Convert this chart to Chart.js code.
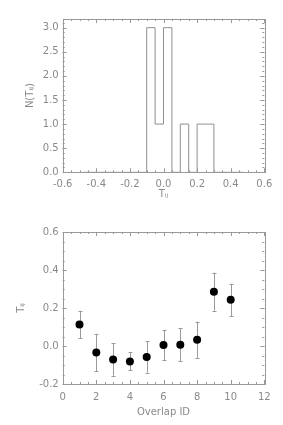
<!DOCTYPE html>
<html><head><meta charset="utf-8">
<script src="https://cdn.jsdelivr.net/npm/chart.js@4/dist/chart.umd.min.js"></script>
<style>
html,body{margin:0;padding:0;background:#fff;width:283px;height:425px;overflow:hidden}
#c1{position:absolute;left:0;top:0}
#c2{position:absolute;left:0;top:210px}
</style></head><body>
<canvas id="c1" width="283" height="210"></canvas>
<canvas id="c2" width="283" height="215"></canvas>
<script>
// ---- Top panel: histogram of T_ij ----
const histBinCenters = [-0.475,-0.425,-0.375,-0.325,-0.275,-0.225,-0.175,-0.125,-0.075,-0.025,0.025,0.075,0.125,0.175,0.225,0.275,0.325,0.375,0.425,0.475];
const histCounts     = [0,0,0,0,0,0,0,0,3,1,3,0,1,0,1,1,0,0,0,0];
const histXTicks = [-0.6,-0.4,-0.2,0.0,0.2,0.4,0.6];
const histYTicks = [0.0,0.5,1.0,1.5,2.0,2.5,3.0];

// ---- Bottom panel: T_ij per overlap ----
const overlapIds = [1,2,3,4,5,6,7,8,9,10];
const overlapT   = [0.113,-0.034,-0.071,-0.081,-0.058,0.005,0.007,0.033,0.286,0.243];
const overlapErr = [0.072,0.098,0.085,0.047,0.082,0.078,0.087,0.095,0.100,0.085];
const overlapXTicks = [0,2,4,6,8,10,12];
const overlapYTicks = [-0.2,0.0,0.2,0.4,0.6];

const AXIS = '#999999';
const TEXT = '#8a8a8a';
const FONT = {family:'DejaVu Sans', size:10};

const boxTicks = {
  id:'boxTicks',
  afterDatasetsDraw(chart, args, opts){
    const ctx = chart.ctx, a = chart.chartArea;
    const xs = chart.scales.x, ys = chart.scales.y;
    ctx.save();
    ctx.strokeStyle = AXIS; ctx.lineWidth = 1;
    ctx.strokeRect(Math.round(a.left)+0.5, Math.round(a.top)+0.5, Math.round(a.right-a.left), Math.round(a.bottom-a.top));
    const line = (x1,y1,x2,y2)=>{ctx.beginPath();ctx.moveTo(x1,y1);ctx.lineTo(x2,y2);ctx.stroke();};
    const drawX = (v,len)=>{const p=Math.round(xs.getPixelForValue(v))+0.5; line(p,a.bottom,p,a.bottom-len); line(p,a.top,p,a.top+len);};
    const drawY = (v,len)=>{const p=Math.round(ys.getPixelForValue(v))+0.5; line(a.left,p,a.left+len,p); line(a.right,p,a.right-len,p);};
    const minors = (sc, step)=>{const out=[]; const n0=Math.ceil(sc.min/step-1e-6), n1=Math.floor(sc.max/step+1e-6); for(let n=n0;n<=n1;n++) out.push(n*step); return out;};
    minors(xs, opts.xMinor).forEach(v=>drawX(v,2));
    minors(ys, opts.yMinor).forEach(v=>drawY(v,2));
    xs.ticks.forEach(t=>drawX(t.value,4));
    ys.ticks.forEach(t=>drawY(t.value,4));
    ctx.restore();
  }
};

const errorBars = {
  id:'errorBars',
  beforeDatasetsDraw(chart, args, opts){
    if(!opts.err) return;
    const ctx = chart.ctx, xs = chart.scales.x, ys = chart.scales.y;
    ctx.save(); ctx.strokeStyle = AXIS; ctx.lineWidth = 1;
    opts.x.forEach((xv,i)=>{
      const px = Math.round(xs.getPixelForValue(xv))+0.5;
      const top = ys.getPixelForValue(opts.y[i]+opts.err[i]);
      const bot = ys.getPixelForValue(opts.y[i]-opts.err[i]);
      ctx.beginPath();
      ctx.moveTo(px,top); ctx.lineTo(px,bot);
      ctx.moveTo(px-2,Math.round(top)+0.5); ctx.lineTo(px+2,Math.round(top)+0.5);
      ctx.moveTo(px-2,Math.round(bot)+0.5); ctx.lineTo(px+2,Math.round(bot)+0.5);
      ctx.stroke();
    });
    ctx.restore();
  }
};

function axis(opts){
  return {
    type:'linear', min:opts.min, max:opts.max,
    grid:{display:false, drawTicks:false}, border:{display:false},
    afterBuildTicks: s => { s.ticks = opts.ticks.map(v=>({value:v})); },
    ticks:{color:TEXT, font:FONT, padding:opts.pad, maxRotation:0, autoSkip:false,
      callback: v => opts.fmt(v)},
    title:{display:true, text:opts.title, color:TEXT, font:FONT, padding:opts.tpad},
    afterFit: s => { if(opts.w!==undefined) s.width = opts.w; if(opts.h!==undefined) s.height = opts.h; }
  };
}

new Chart(document.getElementById('c1'), {
  type:'line',
  data:{datasets:[{
    data: histBinCenters.map((x,i)=>({x:x, y:histCounts[i]})),
    stepped:'middle', borderColor:'#8f8f8f', borderWidth:1, pointRadius:0, fill:false, tension:0
  }]},
  options:{
    responsive:false, animation:false, devicePixelRatio:1,
    layout:{padding:{left:24, right:18.7, top:19, bottom:10}},
    plugins:{legend:{display:false}, tooltip:{enabled:false}, boxTicks:{xMinor:0.05, yMinor:0.1}},
    scales:{
      x: axis({min:-0.6, max:0.6, ticks:histXTicks, fmt:v=>v.toFixed(1), pad:6, title:'Tᵢⱼ', tpad:{top:0,bottom:0}, h:27.7}),
      y: axis({min:0, max:3.18, ticks:histYTicks, fmt:v=>v.toFixed(1), pad:4, title:'N(Tᵢⱼ)', tpad:{top:0,bottom:2}, w:38.7})
    }
  },
  plugins:[boxTicks]
});

new Chart(document.getElementById('c2'), {
  type:'scatter',
  data:{datasets:[{
    data: overlapIds.map((x,i)=>({x:x, y:overlapT[i]})),
    backgroundColor:'#000', borderColor:'#000', pointRadius:4, borderWidth:0
  }]},
  options:{
    responsive:false, animation:false, devicePixelRatio:1,
    layout:{padding:{left:15, right:18.7, top:22, bottom:7}},
    plugins:{legend:{display:false}, tooltip:{enabled:false}, boxTicks:{xMinor:0.5, yMinor:0.05},
      errorBars:{x:overlapIds, y:overlapT, err:overlapErr}},
    scales:{
      x: axis({min:0, max:12, ticks:overlapXTicks, fmt:v=>String(v), pad:7, title:'Overlap ID', tpad:{top:0,bottom:0}, h:34}),
      y: axis({min:-0.2, max:0.6, ticks:overlapYTicks, fmt:v=>v.toFixed(1), pad:4, title:'Tᵢⱼ', tpad:{top:0,bottom:2}, w:47.7})
    }
  },
  plugins:[errorBars, boxTicks]
});
</script>
</body></html>
